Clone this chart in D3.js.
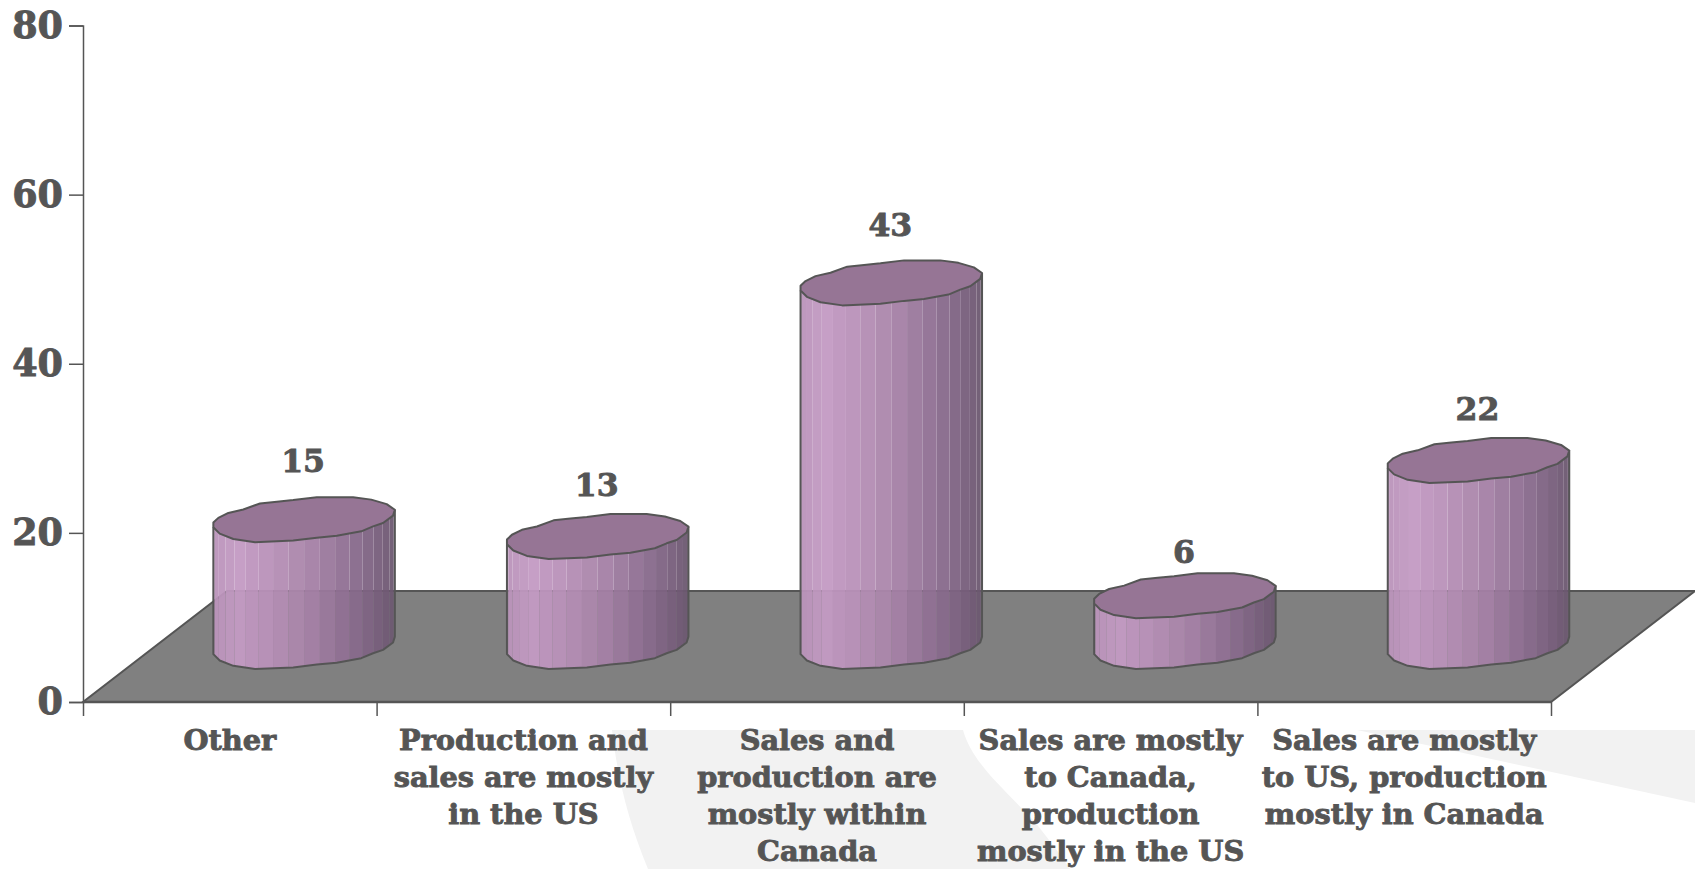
<!DOCTYPE html>
<html><head><meta charset="utf-8">
<script src="https://cdnjs.cloudflare.com/ajax/libs/d3/7.8.5/d3.min.js"></script>
<style>html,body{margin:0;padding:0;background:#fff;overflow:hidden}svg{display:block}
text{font-family:"DejaVu Serif",serif;font-weight:700;fill:#555;stroke:#555;stroke-width:.9px}</style></head><body>
<script>
const categories=[["Other"],["Production and","sales are mostly","in the US"],["Sales and","production are","mostly within","Canada"],["Sales are mostly","to Canada,","production","mostly in the US"],["Sales are mostly","to US, production","mostly in Canada"]];
const values=[15,13,43,6,22];
const yTicks=[0,20,40,60,80];
// value-label drop below the default place above the cap
const labelDrop=[-1,6.5,0,14,6.5];
// cylinder outline, unit coordinates
const capOutline=[[-1,.13],[-.945,-.08],[-.835,-.3],[-.67,-.45],[-.486,-.72],[-.3,-.8],[-.12,-.87],[.14,-1],[.54,-1],[.74,-.89],[.91,-.69],[1,-.44],[.98,-.18],[.87,.15],[.76,.3],[.63,.52],[.36,.72],[.14,.8],[-.12,.93],[-.54,1],[-.78,.86],[-.93,.62],[-1,.34]];
const W=1695,H=869,dx=144,dy=111,capW=90.75,capH=22.5,facets=18;
const svg=d3.select("body").append("svg").attr("width",W).attr("height",H);
const y=d3.scaleLinear().domain([0,80]).range([702,25.5]);
const xi=d3.scaleLinear().domain([0,5]).range([83,1551]);
const line=d3.line();

// watermark
svg.append("path").attr("fill","#f2f2f2").attr("d",
 "M612,730L963,730C972,762 1000,785 1033,820C1045,834 1057,850 1070,869L648,869C628,820 618,780 612,730Z");
svg.append("path").attr("fill","#f2f2f2").attr("d","M1357,730L1695,730L1695,803Z");

// floor
svg.append("path").attr("fill","#808080").attr("stroke","#555").attr("stroke-width",2)
 .attr("d",line([[xi(0),y(0)],[xi(5),y(0)],[xi(5)+dx,y(0)-dy],[xi(0)+dx,y(0)-dy]])+"Z");
svg.append("line").attr("x1",xi(0)).attr("x2",xi(5)).attr("y1",y(0)).attr("y2",y(0)).attr("stroke","#555").attr("stroke-width",2.5);

const shade=d3.scaleLinear().domain([-1,-.72,0,.6,1]).range(["#b993b9","#c49ac4","#a984a9","#85688a","#6b566e"]);
const frontEdge=capOutline.slice(11);
const edgeV=d3.scaleLinear().domain(frontEdge.map(d=>d[0])).range(frontEdge.map(d=>d[1]));
const strips=d3.range(facets).map(k=>{
 const a=Math.cos(Math.PI*k/facets),b=Math.cos(Math.PI*(k+1)/facets);
 return [[a,edgeV(a)],[b,edgeV(b)]];
});

values.forEach((v,i)=>{
 const cx=xi(i+.5)+dx/2+2.3, topY=y(v)-dy/2, h=y(0)-y(v);
 const g=svg.append("g");
 const px=p=>[cx+p[0]*capW,topY+p[1]*capH];
 const pb=p=>[cx+p[0]*capW,topY+h+p[1]*capH];
 g.selectAll("path.s").data(strips).join("path").attr("class","s")
  .attr("fill",d=>shade((d[0][0]+d[1][0])/2)).attr("fill-opacity",.95)
  .attr("d",d=>line([px(d[0]),px(d[1]),pb(d[1]),pb(d[0])])+"Z");
 g.append("path").attr("fill","none").attr("stroke","#555").attr("stroke-width",2).attr("stroke-linejoin","round")
  .attr("d",line([px(frontEdge[0]),...frontEdge.map(pb),px(frontEdge[frontEdge.length-1])]));
 g.append("path").attr("fill","#967595").attr("stroke","#555").attr("stroke-width",2).attr("stroke-linejoin","round")
  .attr("d",line(capOutline.map(px))+"Z");
 g.append("text").attr("x",cx-1).attr("y",topY-capH-24.5+labelDrop[i]).attr("text-anchor","middle").attr("font-size",31.5).text(v);
});

// axes
const yAxis=svg.append("g").attr("transform","translate(83,0)").call(d3.axisLeft(y).tickValues(yTicks).tickSize(14).tickPadding(6));
const xAxis=svg.append("g").attr("transform","translate(0,702)").call(d3.axisBottom(xi).tickValues(d3.range(6)).tickSize(14).tickFormat(""));
[yAxis,xAxis].forEach(a=>{a.selectAll("path,line").attr("stroke","#555").attr("stroke-width",1.5);});
xAxis.select("path").remove();
yAxis.attr("font-family",null).attr("font-size",null);
yAxis.selectAll("text").attr("font-size",36.5);

categories.forEach((lines,i)=>{
 const t=svg.append("text").attr("text-anchor","middle").attr("font-size",28.8);
 lines.forEach((s,j)=>t.append("tspan").attr("x",xi(i+.5)).attr("y",749.8+j*36.9).text(s));
});
</script></body></html>
